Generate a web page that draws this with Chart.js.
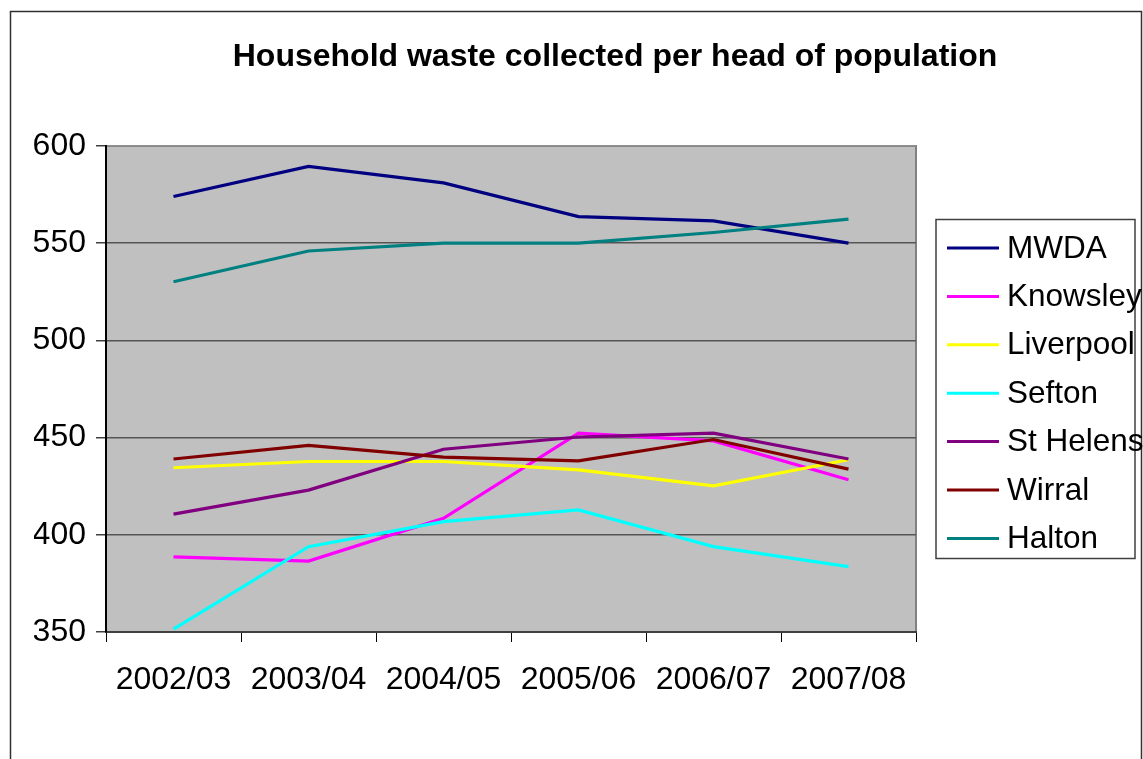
<!DOCTYPE html>
<html lang="en">
<head>
<meta charset="UTF-8">
<title>Household waste collected per head of population</title>
<script src="https://cdn.jsdelivr.net/npm/chart.js@4"></script>
<style>
  html, body { margin: 0; padding: 0; background: #fff; }
  #wrap { width: 1143px; height: 759px; position: relative; }
</style>
</head>
<body>
<div id="wrap"><canvas id="chart"></canvas></div>
<script>
const years = ['2002/03', '2003/04', '2004/05', '2005/06', '2006/07', '2007/08'];
const yTicks = [350, 400, 450, 500, 550, 600];

const mwda      = [574, 589.5, 581, 563.7, 561.5, 550];
const knowsley  = [388.6, 386.5, 408.5, 452.3, 448.3, 428.3];
const liverpool = [434.5, 437.7, 437.7, 433.4, 425.2, 438.6];
const sefton    = [351.5, 393.9, 406.8, 412.8, 393.9, 383.6];
const stHelens  = [410.6, 423, 444, 450.3, 452.3, 439];
const wirral    = [439, 446, 440, 438, 449, 433.8];
const halton    = [530.2, 546, 550, 550, 555.5, 562.4];

const seriesNames  = ['MWDA', 'Knowsley', 'Liverpool', 'Sefton', 'St Helens', 'Wirral', 'Halton'];
const seriesValues = [mwda, knowsley, liverpool, sefton, stHelens, wirral, halton];
const seriesColors = ['#000080', '#FF00FF', '#FFFF00', '#00FFFF', '#800080', '#800000', '#008080'];

const FONT = '"Liberation Sans", Arial, sans-serif';

// grey plot area + outer frame, title and legend box (Excel style)
const excelLook = {
  id: 'excelLook',
  beforeDraw(chart) {
    const { ctx, chartArea: a } = chart;
    ctx.save();
    ctx.fillStyle = '#fff';
    ctx.fillRect(0, 0, chart.width, chart.height);
    ctx.fillStyle = '#C0C0C0';
    ctx.fillRect(a.left, a.top, a.right - a.left, a.bottom - a.top);
    ctx.strokeStyle = '#808080';
    ctx.lineWidth = 2;
    ctx.strokeRect(a.left, a.top, a.right - a.left, a.bottom - a.top);
    ctx.restore();
  },
  afterDraw(chart) {
    const { ctx } = chart;
    ctx.save();
    // outer frame
    ctx.strokeStyle = '#303030';
    ctx.lineWidth = 1.5;
    ctx.strokeRect(10.5, 11.5, 1131, 780);

    // title
    ctx.fillStyle = '#000';
    ctx.font = 'bold 32px ' + FONT;
    ctx.textAlign = 'center';
    ctx.textBaseline = 'alphabetic';
    ctx.fillText('Household waste collected per head of population', 615, 66);

    // legend
    ctx.strokeStyle = '#404040';
    ctx.lineWidth = 1.5;
    ctx.strokeRect(936, 219.5, 199, 339);
    ctx.font = '31.5px ' + FONT;
    ctx.textAlign = 'left';
    ctx.textBaseline = 'middle';
    chart.data.datasets.forEach((ds, i) => {
      const y = 248 + i * 48.4;
      ctx.strokeStyle = ds.borderColor;
      ctx.lineWidth = 3;
      ctx.beginPath();
      ctx.moveTo(947, y);
      ctx.lineTo(999, y);
      ctx.stroke();
      ctx.fillStyle = '#000';
      ctx.fillText(ds.label, 1007, y + 1);
    });
    ctx.restore();
  }
};

new Chart(document.getElementById('chart'), {
  type: 'line',
  data: {
    labels: years,
    datasets: seriesNames.map((name, i) => ({
      label: name,
      data: seriesValues[i],
      borderColor: seriesColors[i],
      backgroundColor: seriesColors[i],
      borderWidth: 3.2,
      pointRadius: 0,
      tension: 0,
      order: seriesNames.length - i
    }))
  },
  options: {
    responsive: true,
    maintainAspectRatio: false,
    animation: false,
    layout: { padding: { left: 34, right: 227, top: 146, bottom: 57 } },
    plugins: {
      legend: { display: false },
      title: { display: false },
      tooltip: { enabled: false }
    },
    scales: {
      x: {
        type: 'category',
        offset: true,
        afterFit: s => { s.height = 70; },
        grid: {
          offset: true,
          drawOnChartArea: false,
          drawTicks: true,
          tickLength: 10,
          color: '#000',
          lineWidth: 1
        },
        border: { display: true, color: '#404040', width: 2 },
        ticks: {
          color: '#000',
          padding: 19,
          maxRotation: 0,
          autoSkip: false,
          font: { family: FONT, size: 32 }
        }
      },
      y: {
        min: 350,
        max: 600,
        afterFit: s => { s.width = 72; },
        afterBuildTicks: s => { s.ticks = yTicks.map(v => ({ value: v })); },
        grid: {
          color: ctx => ctx.tick && ctx.tick.value === 600 ? '#909090' : '#555555',
          lineWidth: 1.5,
          tickLength: 10,
          tickColor: '#404040'
        },
        border: { display: true, color: '#000', width: 2 },
        ticks: {
          color: '#000',
          padding: 10,
          font: { family: FONT, size: 32 }
        }
      }
    }
  },
  plugins: [excelLook]
});
</script>
</body>
</html>
